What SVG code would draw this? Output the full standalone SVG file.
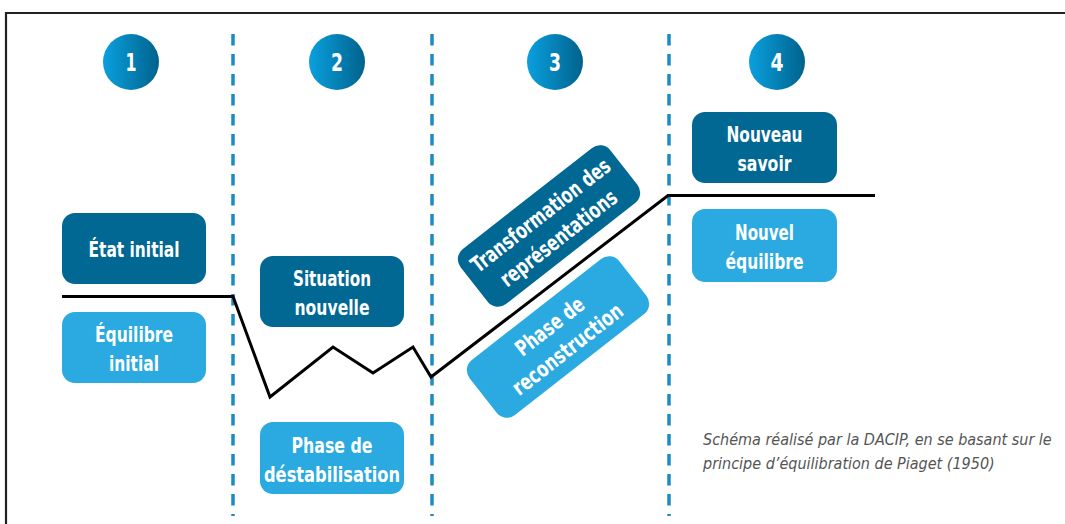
<svg xmlns="http://www.w3.org/2000/svg" width="1065" height="524" viewBox="0 0 1065 524">
  <defs>
    <linearGradient id="circ" x1="0" y1="0" x2="1" y2="0">
      <stop offset="0" stop-color="#0aa0de"/>
      <stop offset="1" stop-color="#00628c"/>
    </linearGradient>
    <style>
      .frame { fill: none; stroke: #222; stroke-width: 2.2; }
      .sep { stroke: #1c8ac4; stroke-width: 3.5; stroke-dasharray: 11.5 8.5; fill: none; }
      .curve { fill: none; stroke: #000; stroke-width: 3; stroke-linejoin: miter; }
      .dark { fill: #006893; }
      .light { fill: #2aaae0; }
      .num { fill: url(#circ); }
      .lbl { font-family: 'Liberation Sans Narrow', 'Arial Narrow', 'DejaVu Sans Condensed', sans-serif; font-stretch: condensed; font-weight: bold; font-size: 22px; fill: #fff; text-anchor: middle; }
      .n { font-size: 24px; }
      .cap { font-family: 'Liberation Sans Narrow', 'Arial Narrow', 'DejaVu Sans Condensed', sans-serif; font-stretch: condensed; font-style: italic; font-size: 16px; fill: #555; }
    </style>
  </defs>

  <rect width="1065" height="524" fill="#fff"/>
  <path class="frame" d="M6,524 V13 H1065"/>

  <g id="separators">
    <line class="sep" x1="233" y1="34" x2="233" y2="516"/>
    <line class="sep" x1="432" y1="34" x2="432" y2="516"/>
    <line class="sep" x1="669" y1="34" x2="669" y2="516"/>
  </g>

  <g id="step1">
    <circle class="num" cx="131" cy="62" r="28"/>
    <text class="lbl n" x="131" y="71" textLength="11" lengthAdjust="spacingAndGlyphs">1</text>
  </g>
  <g id="step2">
    <circle class="num" cx="337" cy="62" r="28"/>
    <text class="lbl n" x="337" y="71" textLength="12" lengthAdjust="spacingAndGlyphs">2</text>
  </g>
  <g id="step3">
    <circle class="num" cx="555" cy="62" r="28"/>
    <text class="lbl n" x="555" y="71" textLength="12" lengthAdjust="spacingAndGlyphs">3</text>
  </g>
  <g id="step4">
    <circle class="num" cx="777" cy="62" r="28"/>
    <text class="lbl n" x="777" y="71" textLength="13" lengthAdjust="spacingAndGlyphs">4</text>
  </g>

  <g id="connectors">
    <polyline class="curve" points="62,296.5 233,296.5 270,397 333,347 373,373 413,347 431,377 668,195.5 875,195.5"/>
  </g>

  <g id="etat-initial">
    <rect class="dark" x="62" y="213" width="144" height="71" rx="13"/>
    <text class="lbl" x="134" y="256.5" textLength="91" lengthAdjust="spacingAndGlyphs">État initial</text>
  </g>
  <g id="equilibre-initial">
    <rect class="light" x="62" y="312" width="144" height="71" rx="13"/>
    <text class="lbl" x="134" y="342" textLength="78" lengthAdjust="spacingAndGlyphs">Équilibre</text>
    <text class="lbl" x="134" y="371" textLength="50" lengthAdjust="spacingAndGlyphs">initial</text>
  </g>

  <g id="situation-nouvelle">
    <rect class="dark" x="260" y="256" width="144" height="71" rx="13"/>
    <text class="lbl" x="332" y="286" textLength="78" lengthAdjust="spacingAndGlyphs">Situation</text>
    <text class="lbl" x="332" y="315" textLength="75" lengthAdjust="spacingAndGlyphs">nouvelle</text>
  </g>
  <g id="phase-destabilisation">
    <rect class="light" x="260" y="422" width="144" height="72" rx="13"/>
    <text class="lbl" x="332" y="452.5" textLength="81" lengthAdjust="spacingAndGlyphs">Phase de</text>
    <text class="lbl" x="332" y="481.5" textLength="136" lengthAdjust="spacingAndGlyphs">déstabilisation</text>
  </g>

  <g id="transformation" transform="translate(549,226) rotate(-38)">
    <rect class="dark" x="-95" y="-35" width="190" height="70" rx="13"/>
    <text class="lbl" x="0" y="-6" textLength="170" lengthAdjust="spacingAndGlyphs">Transformation des</text>
    <text class="lbl" x="0" y="23" textLength="142" lengthAdjust="spacingAndGlyphs">représentations</text>
  </g>
  <g id="reconstruction" transform="translate(558,337) rotate(-38)">
    <rect class="light" x="-95" y="-35" width="190" height="70" rx="13"/>
    <text class="lbl" x="0" y="-6" textLength="81" lengthAdjust="spacingAndGlyphs">Phase de</text>
    <text class="lbl" x="0" y="23" textLength="134" lengthAdjust="spacingAndGlyphs">reconstruction</text>
  </g>

  <g id="nouveau-savoir">
    <rect class="dark" x="692" y="112" width="145" height="71" rx="13"/>
    <text class="lbl" x="764.5" y="142" textLength="76" lengthAdjust="spacingAndGlyphs">Nouveau</text>
    <text class="lbl" x="764.5" y="171" textLength="54" lengthAdjust="spacingAndGlyphs">savoir</text>
  </g>
  <g id="nouvel-equilibre">
    <rect class="light" x="692" y="209" width="145" height="73" rx="13"/>
    <text class="lbl" x="764.5" y="240" textLength="59" lengthAdjust="spacingAndGlyphs">Nouvel</text>
    <text class="lbl" x="764.5" y="269" textLength="78" lengthAdjust="spacingAndGlyphs">équilibre</text>
  </g>

  <g id="caption">
    <text class="cap" x="703" y="445">Schéma réalisé par la DACIP, en se basant sur le</text>
    <text class="cap" x="703" y="469">principe d’équilibration de Piaget (1950)</text>
  </g>
</svg>
